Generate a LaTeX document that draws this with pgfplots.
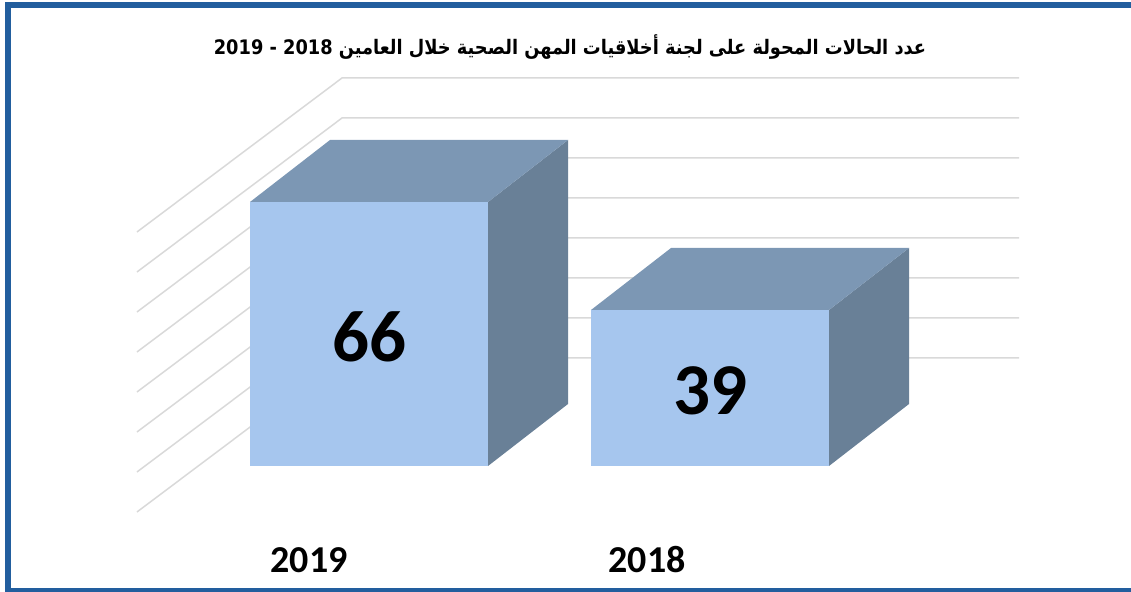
\documentclass[border=0pt]{standalone}
\usepackage{pgfplots}
\pgfplotsset{compat=1.18}
\usepackage{pgfplotstable}
\usepackage{fontspec}
\setmainfont{Carlito}
\newfontfamily\arabicfont[Script=Arabic]{DejaVu Sans}
\TeXXeTstate=1
\definecolor{frontc}{RGB}{166,198,238}
\definecolor{topc}{RGB}{124,151,180}
\definecolor{sidec}{RGB}{105,128,151}
\definecolor{bordc}{RGB}{34,94,158}
\definecolor{gridc}{RGB}{217,217,217}

\pgfplotstableread{
x v
0 66
1 39
}\bardata

\def\hw{0.34897}
\def\ddx{0.23460}
\def\ddy{15.5}
\newcommand\cube[2]{%
  \pgfmathsetmacro\xl{#1-\hw}%
  \pgfmathsetmacro\xr{#1+\hw}%
  \pgfmathsetmacro\xlb{#1-\hw+\ddx}%
  \pgfmathsetmacro\xrb{#1+\hw+\ddx}%
  \pgfmathsetmacro\vt{#2+\ddy}%
  \edef\temp{%
    \noexpand\addplot[fill=sidec, draw=none] coordinates {(\xr,0) (\xrb,\ddy) (\xrb,\vt) (\xr,#2)};
    \noexpand\addplot[fill=topc, draw=none] coordinates {(\xl,#2) (\xr,#2) (\xrb,\vt) (\xlb,\vt)};
  }\temp}

\begin{document}
\begin{tikzpicture}
\path[use as bounding box] (0pt,0pt) rectangle (1131pt,591pt);
\begin{axis}[
  at={(0pt,0pt)}, anchor=south west,
  width=1131pt, height=591pt, scale only axis,
  xmin=-1.08211, xmax=2.23460, ymin=-31.25, ymax=116.5,
  axis lines=none, ticks=none,
  /pgf/number format/assume math mode=true,
]
% gridlines (back wall + left wall)
\addplot[gridc, line width=1.5pt, mark=none] coordinates {(-0.6804,-11.5) (-0.0792,27) (1.9062,27)};
\addplot[gridc, line width=1.5pt, mark=none] coordinates {(-0.6804,-1.5) (-0.0792,37) (1.9062,37)};
\addplot[gridc, line width=1.5pt, mark=none] coordinates {(-0.6804,8.5) (-0.0792,47) (1.9062,47)};
\addplot[gridc, line width=1.5pt, mark=none] coordinates {(-0.6804,18.5) (-0.0792,57) (1.9062,57)};
\addplot[gridc, line width=1.5pt, mark=none] coordinates {(-0.6804,28.5) (-0.0792,67) (1.9062,67)};
\addplot[gridc, line width=1.5pt, mark=none] coordinates {(-0.6804,38.5) (-0.0792,77) (1.9062,77)};
\addplot[gridc, line width=1.5pt, mark=none] coordinates {(-0.6804,48.5) (-0.0792,87) (1.9062,87)};
\addplot[gridc, line width=1.5pt, mark=none] coordinates {(-0.6804,58.5) (-0.0792,97) (1.9062,97)};
% front faces
\addplot[ybar, bar width=238pt, fill=frontc, draw=none] table[x=x, y=v] {\bardata};
% side and top faces
\pgfplotstablegetelem{0}{v}\of\bardata \let\vA\pgfplotsretval
\pgfplotstablegetelem{1}{v}\of\bardata \let\vB\pgfplotsretval
\cube{0}{\vA}
\cube{1}{\vB}
% value labels
\addplot[draw=none, mark=none, nodes near coords, point meta=explicit,
  every node near coord/.style={anchor=center, yshift=-3pt, text=black,
    font=\bfseries\fontsize{73}{76}\selectfont}]
  table[x=x, y expr=\thisrow{v}/2, meta=v] {\bardata};
\end{axis}
% category labels
\node[font=\bfseries\fontsize{38}{40}\selectfont] at (309pt,31pt) {2019};
\node[font=\bfseries\fontsize{38}{40}\selectfont] at (647pt,31pt) {2018};
% title
\node[font=\arabicfont\bfseries\fontsize{20}{23}\selectfont] at (570pt,544pt)
  {\scalebox{0.89}[1]{\beginR عدد الحالات المحولة على لجنة أخلاقيات المهن الصحية خلال العامين \beginL2019 - 2018\endL\endR}};
% border
\draw[bordc, line width=6pt] (8pt,-10pt) -- (8pt,586pt) -- (1145pt,586pt);
\draw[bordc, line width=6pt] (8pt,0pt) -- (1145pt,0pt);
\end{tikzpicture}
\end{document}
